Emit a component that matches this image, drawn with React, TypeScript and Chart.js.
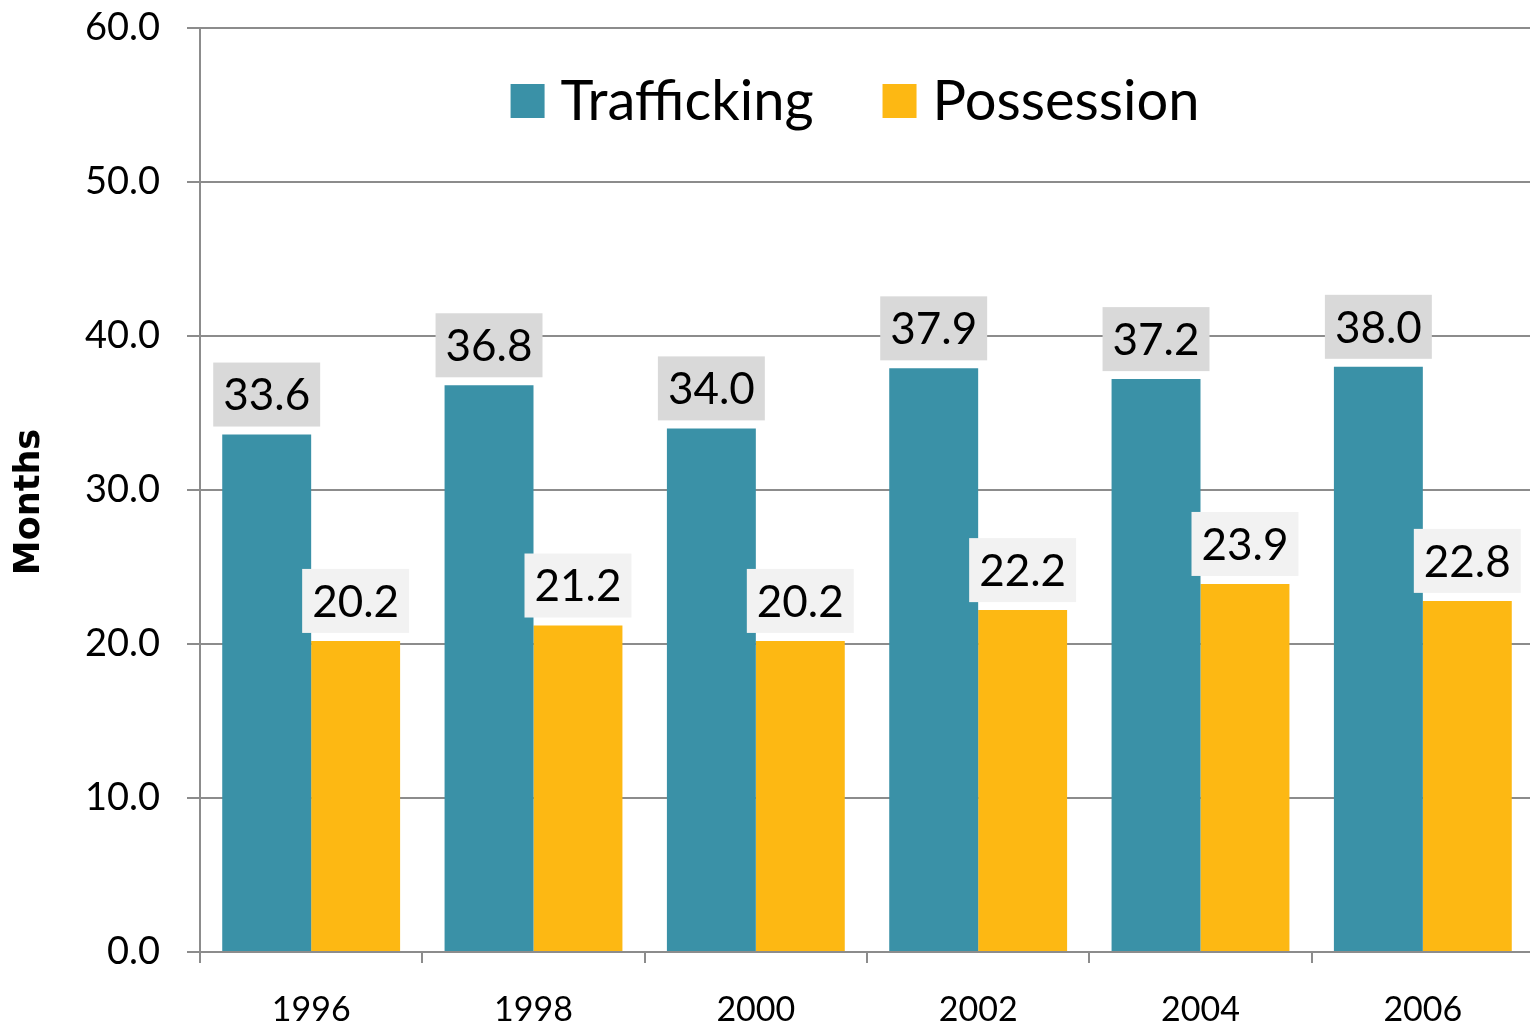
import React, { useEffect, useRef } from "react";
import { Chart, registerables } from "chart.js";

Chart.register(...registerables);

const categories = ["1996", "1998", "2000", "2002", "2004", "2006"];
const trafficking = [33.6, 36.8, 34.0, 37.9, 37.2, 38.0];
const possession = [20.2, 21.2, 20.2, 22.2, 23.9, 22.8];
const seriesNames = ["Trafficking", "Possession"];
const seriesColors = ["#3a91a7", "#fdb813"];
const labelBgColors = ["#d9d9d9", "#f2f2f2"];
const yTitle = "Months";

const FONT = "Lato, 'Open Sans', sans-serif";

const valueLabelPlugin = {
  id: "valueLabels",
  afterDatasetsDraw(chart: any) {
    const ctx = chart.ctx;
    ctx.save();
    const fs = 44;
    ctx.font = `${fs}px ${FONT}`;
    chart.data.datasets.forEach((ds: any, i: number) => {
      const meta = chart.getDatasetMeta(i);
      meta.data.forEach((bar: any, j: number) => {
        const text = Number(ds.data[j]).toFixed(1);
        const tw = ctx.measureText(text).width;
        const w = tw + 20;
        const h = 64;
        const x = bar.x - w / 2;
        const y = bar.y - 8 - h;
        ctx.fillStyle = labelBgColors[i];
        ctx.fillRect(x, y, w, h);
        ctx.fillStyle = "#000";
        ctx.textAlign = "center";
        ctx.textBaseline = "alphabetic";
        ctx.fillText(text, bar.x, y + h / 2 + fs * 0.36);
      });
    });
    ctx.restore();
  },
};

const legendPlugin = {
  id: "customLegend",
  afterDraw(chart: any) {
    const ctx = chart.ctx;
    const area = chart.chartArea;
    ctx.save();
    const fs = 56;
    ctx.font = `${fs}px ${FONT}`;
    const box = 34;
    const gapBox = 16;
    const gapItem = 69;
    const widths = seriesNames.map((n) => ctx.measureText(n).width);
    let total = 0;
    widths.forEach((w, i) => {
      total += box + gapBox + w + (i < widths.length - 1 ? gapItem : 0);
    });
    let x = (area.left + area.right) / 2 - 12 - total / 2;
    const boxTop = area.top + 56;
    const baseline = area.top + 92;
    seriesNames.forEach((n, i) => {
      ctx.fillStyle = seriesColors[i];
      ctx.fillRect(x, boxTop, box, box);
      x += box + gapBox;
      ctx.fillStyle = "#000";
      ctx.textAlign = "left";
      ctx.textBaseline = "alphabetic";
      ctx.fillText(n, x, baseline);
      x += widths[i] + gapItem;
    });

    // y-axis title
    ctx.font = `bold 35px 'DejaVu Sans', sans-serif`;
    ctx.translate(30, (area.top + area.bottom) / 2 + 12);
    ctx.rotate(-Math.PI / 2);
    ctx.textAlign = "center";
    ctx.textBaseline = "middle";
    ctx.fillStyle = "#000";
    ctx.fillText(yTitle, 0, 0);
    ctx.restore();
  },
};

export default function App() {
  const ref = useRef<HTMLCanvasElement | null>(null);

  useEffect(() => {
    if (!ref.current) return;
    const chart = new Chart(ref.current, {
      type: "bar",
      data: {
        labels: categories,
        datasets: [
          {
            label: seriesNames[0],
            data: trafficking,
            backgroundColor: seriesColors[0],
            categoryPercentage: 0.8,
            barPercentage: 1.0,
          },
          {
            label: seriesNames[1],
            data: possession,
            backgroundColor: seriesColors[1],
            categoryPercentage: 0.8,
            barPercentage: 1.0,
          },
        ],
      },
      options: {
        responsive: false,
        animation: false,
        maintainAspectRatio: false,
        layout: { padding: { top: 28, left: 0, right: 0, bottom: 0 } },
        plugins: {
          legend: { display: false },
          tooltip: { enabled: false },
        },
        scales: {
          x: {
            afterFit(scale: any) {
              scale.height = 73;
              scale.paddingLeft = 0;
              scale.paddingRight = 0;
            },
            grid: {
              display: true,
              drawOnChartArea: false,
              drawTicks: true,
              tickLength: 11,
              color: "#8c8c8c",
              lineWidth: 2,
            },
            border: { display: true, color: "#8c8c8c", width: 2 },
            ticks: {
              color: "#000",
              font: { family: FONT, size: 34 },
              padding: 27,
              maxRotation: 0,
            },
          },
          y: {
            min: 0,
            max: 60,
            afterFit(scale: any) {
              scale.width = 200;
              scale.paddingTop = 0;
              scale.paddingBottom = 0;
            },
            grid: {
              color: "#8c8c8c",
              lineWidth: 2,
              drawTicks: true,
              tickLength: 13,
            },
            border: { display: true, color: "#8c8c8c", width: 2 },
            ticks: {
              stepSize: 10,
              color: "#000",
              font: { family: FONT, size: 38 },
              padding: 27,
              callback: (v: any) => Number(v).toFixed(1),
            },
            title: { display: false },
          },
        },
      },
      plugins: [valueLabelPlugin, legendPlugin],
    } as any);
    return () => chart.destroy();
  }, []);

  return (
    <div
      style={{
        position: "fixed",
        left: 0,
        top: 0,
        width: 1534,
        height: 1025,
        background: "#fff",
      }}
    >
      <canvas ref={ref} width={1534} height={1025} style={{ display: "block" }} />
    </div>
  );
}
